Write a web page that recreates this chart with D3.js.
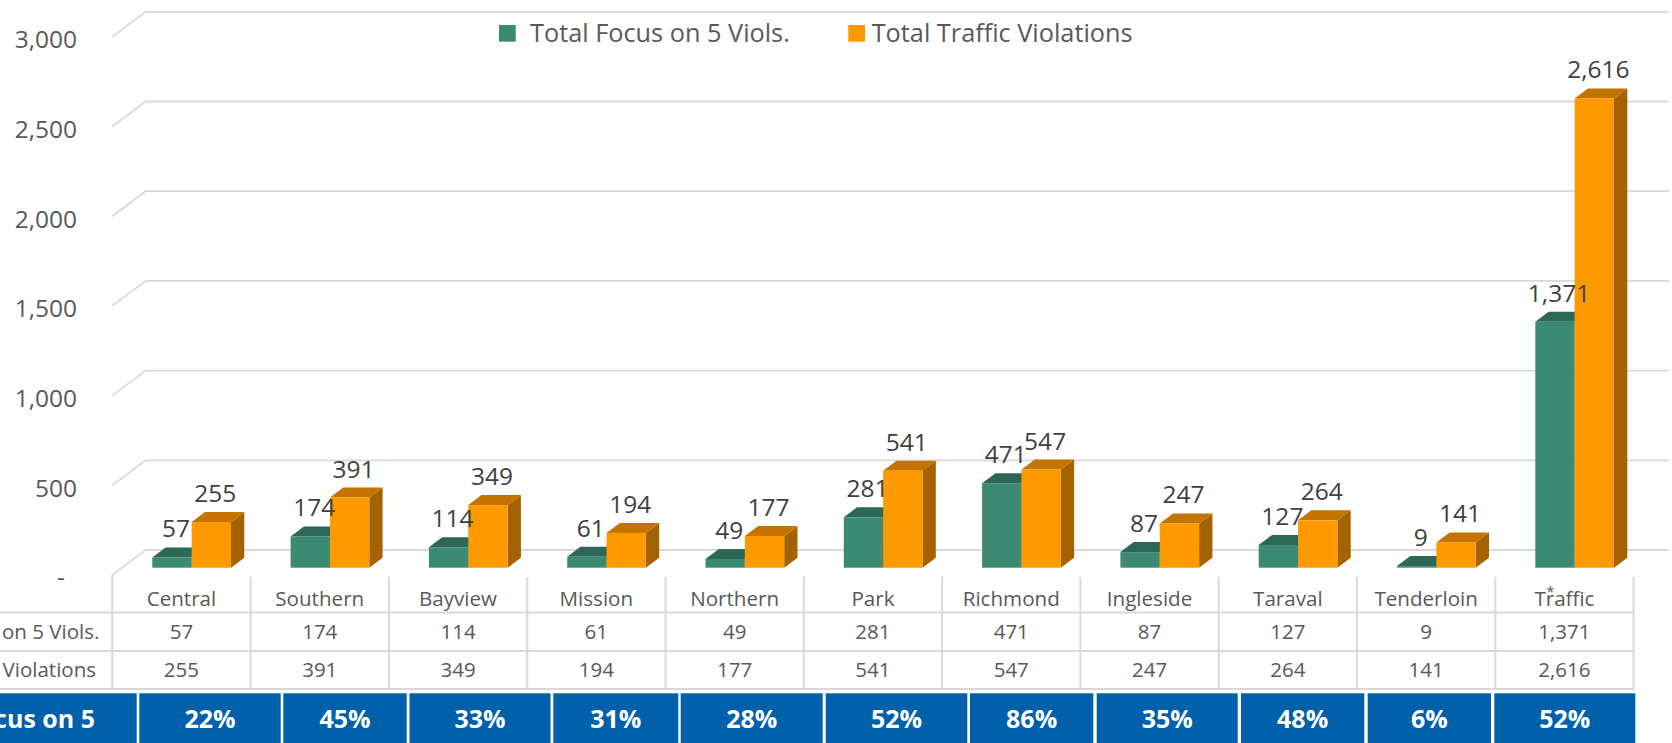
<!DOCTYPE html>
<html>
<head>
<meta charset="utf-8">
<script src="https://cdn.jsdelivr.net/npm/d3@7"></script>
<style>
  html, body { margin: 0; padding: 0; background: #ffffff; }
  svg { display: block; }
  text { font-family: "Open Sans", "Noto Sans", sans-serif; }
</style>
</head>
<body>
<svg id="chart" width="1672" height="743"></svg>
<script>
// ---------- data ----------
const categories = ["Central", "Southern", "Bayview", "Mission", "Northern", "Park", "Richmond", "Ingleside", "Taraval", "Tenderloin", "Traffic"];
const seriesNames = ["Total Focus on 5 Viols.", "Total Traffic Violations"];
const focusValues = [57, 174, 114, 61, 49, 281, 471, 87, 127, 9, 1371];
const trafficValues = [255, 391, 349, 194, 177, 541, 547, 247, 264, 141, 2616];
const percentLabels = ["22%", "45%", "33%", "31%", "28%", "52%", "86%", "35%", "48%", "6%", "52%"];
const percentRowTitle = "% Focus on 5";
const yTicks = [0, 500, 1000, 1500, 2000, 2500, 3000];

// ---------- layout / style ----------
const W = 1672, H = 743;
const colors = {
  green: "#3C8A72", greenTop: "#2D6757", greenSide: "#276050",
  orange: "#FF9900", orangeTop: "#C47300", orangeSide: "#A56200",
  grid: "#D9D9D9", text: "#595959", label: "#404040", blue: "#0060AA"
};
const plotLeft = 112.3, plotRight = 1633.6;
const baseY = 567.7, pxPerUnit = 0.1794;
const floorDX = 33.4, floorFrontOff = 7.3, floorBackOff = -17.7;
const barDX = 13.3, barDY = -10;
const gridRight = 1668.7;
const blueTop = 693.3;
const blueEdges = [[0,136.7],[139.3,280.7],[283.3,406.7],[409.5,550.5],[553.3,678.3],[680.7,822.7],[825.7,967.3],[970,1093.3],[1096.7,1237.7],[1241,1364.3],[1367.7,1491],[1494.3,1635.3]];

const svg = d3.select("#chart");

const x = d3.scaleBand().domain(categories).range([plotLeft, plotRight]).padding(0);
const xs = d3.scaleBand().domain(seriesNames).range([40, 118.7]).padding(0);
const y = d3.scaleLinear().domain([0, 3000]).range([baseY, baseY - 3000 * pxPerUnit]);

const fmt = d3.format(",");

// ---------- gridlines (3D wall) ----------
const gridG = svg.append("g");
yTicks.forEach(v => {
  const yf = y(v) + floorFrontOff, yb = y(v) + floorBackOff;
  gridG.append("path")
    .attr("d", `M${plotLeft},${yf}L${plotLeft + floorDX},${yb}L${gridRight},${yb}`)
    .attr("fill", "none").attr("stroke", colors.grid).attr("stroke-width", 1.8);
});

// y tick labels
svg.append("g").selectAll("text").data(yTicks).join("text")
  .attr("x", d => d === 0 ? 61 : 77)
  .attr("y", d => y(d) + floorFrontOff + 11.4)
  .attr("text-anchor", d => d === 0 ? "middle" : "end")
  .attr("font-size", 24.5)
  .attr("fill", colors.text)
  .text(d => d === 0 ? "-" : fmt(d));

// ---------- bars ----------
const rows = categories.map((c, i) => ({ cat: c, vals: [focusValues[i], trafficValues[i]] }));
const barsG = svg.append("g");
const fills = [
  { front: colors.green, top: colors.greenTop, side: colors.greenSide },
  { front: colors.orange, top: colors.orangeTop, side: colors.orangeSide }
];
rows.forEach(r => {
  r.vals.forEach((v, s) => {
    const x0 = x(r.cat) + xs(seriesNames[s]);
    const w = xs.bandwidth();
    const yt = y(v), yb = y(0);
    const f = fills[s];
    const g = barsG.append("g");
    // side
    g.append("path")
      .attr("d", `M${x0 + w},${yt}L${x0 + w + barDX},${yt + barDY}L${x0 + w + barDX},${yb + barDY}L${x0 + w},${yb}Z`)
      .attr("fill", f.side);
    // top
    g.append("path")
      .attr("d", `M${x0},${yt}L${x0 + barDX},${yt + barDY}L${x0 + w + barDX},${yt + barDY}L${x0 + w},${yt}Z`)
      .attr("fill", f.top);
    // front
    g.append("rect")
      .attr("x", x0).attr("y", yt).attr("width", w).attr("height", Math.max(0, yb - yt))
      .attr("fill", f.front);
  });
});

// data labels
const labG = svg.append("g");
rows.forEach(r => {
  r.vals.forEach((v, s) => {
    const cx = x(r.cat) + xs(seriesNames[s]) + xs.bandwidth() / 2 + 4;
    labG.append("text")
      .attr("x", cx).attr("y", y(v) + barDY - 10)
      .attr("text-anchor", "middle")
      .attr("font-size", 24.5)
      .attr("fill", colors.label)
      .text(fmt(v));
  });
});

// ---------- legend ----------
const legend = svg.append("g");
const legendItems = [
  { name: seriesNames[0], color: colors.green, sx: 499, tx: 530 },
  { name: seriesNames[1], color: colors.orange, sx: 848.3, tx: 871.7 }
];
legendItems.forEach(it => {
  legend.append("rect").attr("x", it.sx).attr("y", 25).attr("width", 16.7).attr("height", 16.7).attr("fill", it.color);
  legend.append("text").attr("x", it.tx).attr("y", 41.7).attr("font-size", 25.3).attr("fill", colors.text).text(it.name);
});

// ---------- data table ----------
const tableG = svg.append("g");
const tableLines = { top: 576.7, r1: 612.5, r2: 651, r3: 689 };
// vertical lines
const edges = categories.map(c => x(c)).concat([plotRight]);
tableG.selectAll("line.v").data(edges).join("line")
  .attr("x1", d => d).attr("x2", d => d)
  .attr("y1", (d, i) => i === 0 ? 575 : tableLines.top).attr("y2", tableLines.r3)
  .attr("stroke", colors.grid).attr("stroke-width", 2);
// horizontal lines
[tableLines.r1, tableLines.r2, tableLines.r3].forEach(yy => {
  tableG.append("line").attr("x1", 0).attr("x2", plotRight + 1)
    .attr("y1", yy).attr("y2", yy)
    .attr("stroke", colors.grid).attr("stroke-width", 2);
});
// category labels
tableG.selectAll("text.cat").data(categories).join("text")
  .attr("x", d => x(d) + x.bandwidth() / 2).attr("y", 606)
  .attr("text-anchor", "middle").attr("font-size", 20.6).attr("fill", colors.text)
  .text(d => d);
// asterisk on Traffic
tableG.append("text")
  .attr("x", x("Traffic") + x.bandwidth() / 2 - 14).attr("y", 597)
  .attr("text-anchor", "middle").attr("font-size", 15).attr("fill", colors.text)
  .text("*");
// values rows
tableG.selectAll("text.v1").data(focusValues).join("text")
  .attr("x", (d, i) => x(categories[i]) + x.bandwidth() / 2).attr("y", 639.3)
  .attr("text-anchor", "middle").attr("font-size", 20.5).attr("fill", colors.text)
  .text(d => fmt(d));
tableG.selectAll("text.v2").data(trafficValues).join("text")
  .attr("x", (d, i) => x(categories[i]) + x.bandwidth() / 2).attr("y", 676.7)
  .attr("text-anchor", "middle").attr("font-size", 20.5).attr("fill", colors.text)
  .text(d => fmt(d));
// row headers
tableG.append("text").attr("x", 99.3).attr("y", 639.3).attr("text-anchor", "end")
  .attr("font-size", 20.5).attr("fill", colors.text).text(seriesNames[0]);
tableG.append("text").attr("x", 96).attr("y", 676.7).attr("text-anchor", "end")
  .attr("font-size", 20.5).attr("fill", colors.text).text(seriesNames[1]);

// ---------- blue percentage row ----------
const blueG = svg.append("g");
blueG.selectAll("rect").data(blueEdges).join("rect")
  .attr("x", d => d[0]).attr("y", blueTop).attr("width", d => d[1] - d[0]).attr("height", H - blueTop)
  .attr("fill", colors.blue);
blueG.append("text").attr("x", 95).attr("y", 728.3).attr("text-anchor", "end")
  .attr("font-size", 25).attr("font-weight", "bold").attr("fill", "#ffffff").text(percentRowTitle);
blueG.selectAll("text.p").data(percentLabels).join("text")
  .attr("x", (d, i) => (blueEdges[i + 1][0] + blueEdges[i + 1][1]) / 2).attr("y", 728.3)
  .attr("text-anchor", "middle").attr("font-size", 25).attr("font-weight", "bold").attr("fill", "#ffffff")
  .text(d => d);
</script>
</body>
</html>
